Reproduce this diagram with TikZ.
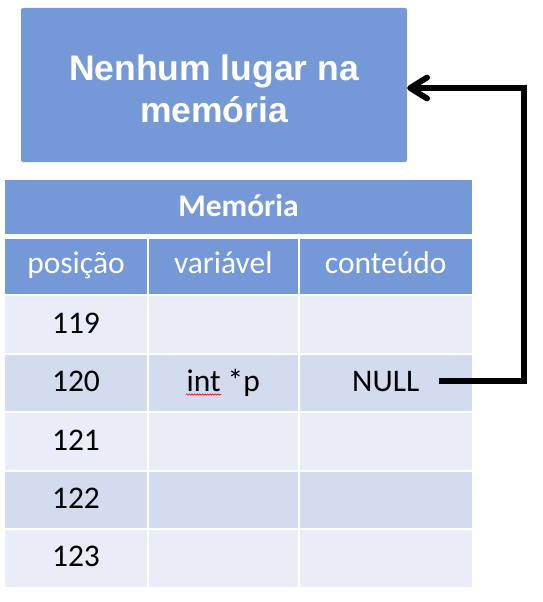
\documentclass[tikz,border=0pt]{standalone}
\usepackage{fontspec}
\setmainfont{Carlito}
\newfontfamily\titlefont{Liberation Sans}
\usetikzlibrary{arrows.meta,decorations.pathmorphing}
\definecolor{hdrblue}{RGB}{117,152,214}
\definecolor{rowlight}{RGB}{233,237,247}
\definecolor{rowdark}{RGB}{211,219,239}
\begin{document}
\begin{tikzpicture}[x=1pt,y=-1pt,
  titlebox/.style={fill=hdrblue, rounded corners=2pt, inner sep=0pt, minimum width=386pt, minimum height=154pt},
  titletxt/.style={font=\titlefont\bfseries\fontsize{35.5}{43}\selectfont, text=white, inner sep=0pt, anchor=base},
  hdrtxt/.style={font=\bfseries\fontsize{31.5}{38}\selectfont, text=white, inner sep=0pt, anchor=base},
  coltxt/.style={font=\fontsize{31.5}{38}\selectfont, text=white, inner sep=0pt, anchor=base},
  celltxt/.style={font=\fontsize{31.5}{38}\selectfont, text=black, inner sep=0pt, anchor=base},
  conn/.style={line width=5.8pt, -{Straight Barb[length=17pt,width=21pt,round]}}]
\useasboundingbox (0,0) rectangle (542,602);
% title box
\node[titlebox] (title) at (214,85) {};
\node[titletxt] (title1) at (214,80) {Nenhum lugar na};
\node[titletxt] (title2) at (214,122.7) {memória};
% table header
\fill[hdrblue] (5,180) rectangle (472,234);
\node[hdrtxt] (memhdr) at (238.5,216) {Memória};
% column headers
\fill[hdrblue] (5,239) rectangle (147,294);
\fill[hdrblue] (149,239) rectangle (297.5,294);
\fill[hdrblue] (299.5,239) rectangle (472,294);
\node[coltxt] (hpos) at (76,273) {posição};
\node[coltxt] (hvar) at (223.25,273) {variável};
\node[coltxt] (hcont) at (385.75,273) {conteúdo};
% rows
\foreach \ya/\yb/\col in {296/352.5/rowlight, 354.5/411/rowdark, 413/469.5/rowlight, 471.5/528/rowdark, 530/586.5/rowlight}{
  \fill[\col] (5,\ya) rectangle (147,\yb);
  \fill[\col] (149,\ya) rectangle (297.5,\yb);
  \fill[\col] (299.5,\ya) rectangle (472,\yb);
}
\node[celltxt] (p119) at (76,333.5) {119};
\node[celltxt] (p120) at (76,391.3) {120};
\node[celltxt] (p121) at (76,450) {121};
\node[celltxt] (p122) at (76,508.2) {122};
\node[celltxt] (p123) at (76,566) {123};
\node[celltxt] (intp) at (223.25,391.3) {int *p};
\node[celltxt] (nullt) at (385.75,391.3) {NULL};
% spell-check squiggle
\draw[red, line width=0.6pt, decorate, decoration={snake, amplitude=0.7pt, segment length=2.6pt}] (186,394.5) -- (221,394.5);
% connector
\draw[conn] ([xshift=20pt]nullt.east) -| ([xshift=117pt,yshift=-3pt]title.east) -- ([yshift=-3pt]title.east);
\end{tikzpicture}
\end{document}
